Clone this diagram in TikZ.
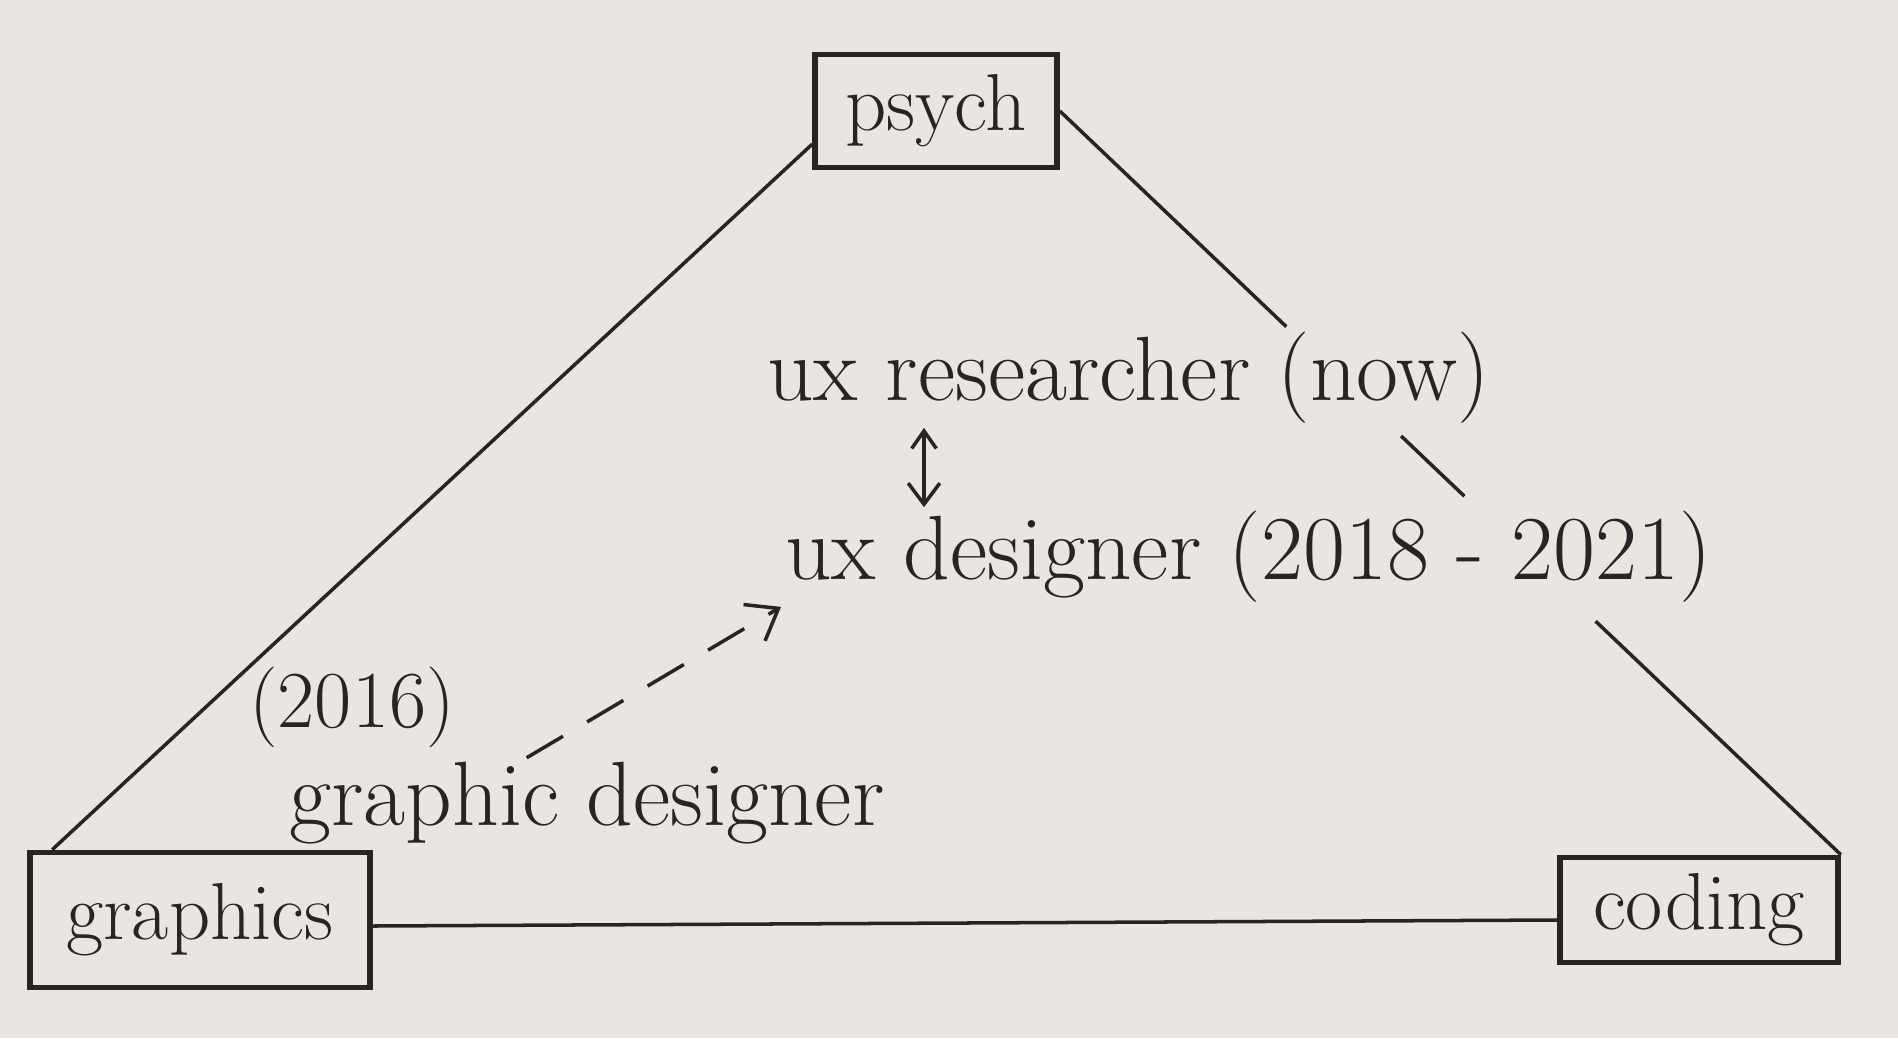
\documentclass[tikz,border=0pt]{standalone}
\definecolor{inkgrey}{RGB}{38, 36, 36}
\definecolor{paperbg}{RGB}{233, 230, 225}
\usepackage{tikz}
\usepackage{xcolor}
\usetikzlibrary{arrows.meta, positioning, calc}

\begin{document}
\begin{tikzpicture}[x=0.1mm, y=-0.1mm, inkgrey,
                    box/.style={draw, line width=1.6pt, inner sep=0pt, font=\fontsize{23}{27}\selectfont},
                    hand/.style={inner sep=1pt, font=\fontsize{26}{31}\selectfont},
                    pen/.style={line width=1pt}]
                    \fill[paperbg] (0, 0) rectangle (1898, 1038);
                    \node[box, minimum width=2.42cm, minimum height=1.13cm] (psych) at (936, 111) {psych};
                    \node[box, minimum width=3.4cm, minimum height=1.35cm] (graphics) at (200, 920) {graphics};
                    \node[box, minimum width=2.78cm, minimum height=1.05cm] (coding) at (1699, 910) {coding};
                    \node[hand, anchor=west] (researcher) at (763, 378) {ux researcher (now)};
                    \node[hand, anchor=west] (designer) at (781, 557) {ux designer (2018 - 2021)};
                    \node[hand, font=\fontsize{23}{27}\selectfont] (year) at (352, 707) {(2016)};
                    \node[hand] (graphicdesigner) at (587, 803) {graphic designer};
                    \draw[pen] (psych.195) -- ([xshift=0.25cm]graphics.north west);
                    \draw[pen] (psych.east) -- ($(psych.east)!0.29!(coding.north east)$);
                    \draw[pen] ($(psych.east)!0.437!(coding.north east)$) -- ($(psych.east)!0.518!(coding.north east)$);
                    \draw[pen] ($(psych.east)!0.686!(coding.north east)$) -- (coding.north east);
                    \draw[pen] ([yshift=-0.6mm]graphics.east) -- ([yshift=-1mm]coding.west);
                    \draw[pen, {Straight Barb[length=5pt, width=7pt]}-{Straight Barb[length=6pt, width=9pt]}] ([xshift=1.61cm]researcher.south west) -- ([xshift=1.61cm]researcher.south west |- designer.north);
                    \draw[pen, dash pattern=on 12pt off 8pt, -{Straight Barb[length=8pt, width=12pt]}] ($(graphicdesigner.north west)!0.4!(graphicdesigner.north east)$) -- (designer.south west);
                \end{tikzpicture}
\end{document}
